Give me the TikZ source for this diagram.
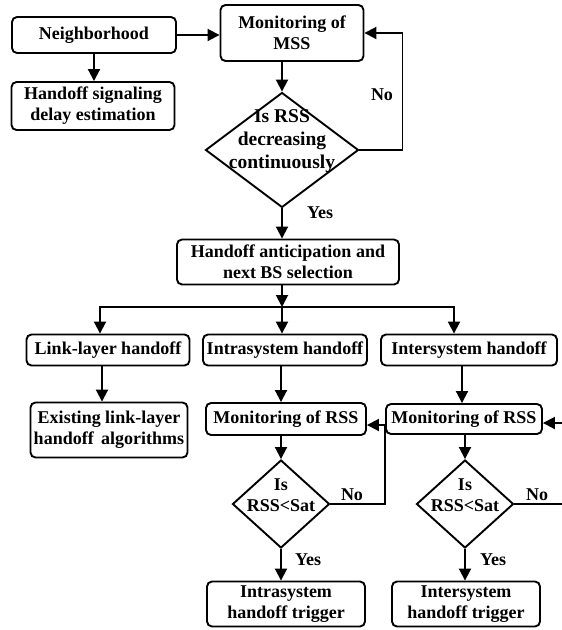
\documentclass[tikz,border=0pt]{standalone}
\usepackage{fontspec}
\setmainfont{Liberation Serif}
\usetikzlibrary{shapes.geometric,arrows.meta}
\begin{document}
\begin{tikzpicture}
      [x=1pt,y=-1pt,line width=1.9pt,
       every node/.style={font=\fontsize{18pt}{21pt}\selectfont\bfseries, inner sep=0pt, align=center},
       box/.style={draw, rounded corners=5pt},
       dia/.style={draw, diamond},
       arr/.style={-{Triangle[length=12pt,width=12pt]}}]
    \useasboundingbox (0,0) rectangle (562,630);

    \node[box, minimum width=164pt, minimum height=36pt] (nbr) at (94,35) {Neighborhood};
    \node[box, minimum width=163pt, minimum height=48pt] (hsd) at (93,106) {Handoff signaling\\delay estimation};
    \node[box, minimum width=143pt, minimum height=56pt] (mss) at (292,33) {Monitoring of\\MSS};
    \node[dia, minimum width=153pt, minimum height=115pt] (dec) at (282,150) {};
    \node[font=\fontsize{19.5pt}{23pt}\selectfont\bfseries] (decTxt) at (282,141) {Is RSS\\decreasing\\continuously};
    \node[box, minimum width=222pt, minimum height=45pt] (ant) at (288,262) {Handoff anticipation and\\next BS selection};
    \coordinate (split) at (282,307);

    \node[box, minimum width=163pt, minimum height=31pt] (link) at (108,350) {Link-layer handoff};
    \node[box, minimum width=164pt, minimum height=31pt] (intra) at (285,350) {Intrasystem handoff};
    \node[box, minimum width=176pt, minimum height=31pt] (inter) at (469,350) {Intersystem handoff};

    \node[box, minimum width=157pt, minimum height=55pt] (exist) at (109,430) {Existing link-layer\\handoff\, algorithms};
    \node[box, minimum width=160pt, minimum height=32pt] (monL) at (286,419) {Monitoring of RSS};
    \node[box, minimum width=156pt, minimum height=30pt] (monR) at (464,419) {Monitoring of RSS};

    \node[dia, minimum width=97pt, minimum height=88pt] (dL) at (281,504) {};
    \node (dLTxt) at (281,495) {Is\\RSS<Sat};
    \node[dia, minimum width=97pt, minimum height=88pt] (dR) at (465,504) {};
    \node (dRTxt) at (465,495) {Is\\RSS<Sat};

    \node[box, minimum width=158pt, minimum height=45pt] (trigL) at (286,604) {Intrasystem\\handoff trigger};
    \node[box, minimum width=148pt, minimum height=45pt] (trigR) at (466,604) {Intersystem\\handoff trigger};

    \node (no1) at (382,95) {No};
    \node (yes1) at (320,213) {Yes};
    \node (no2) at (352,495) {No};
    \node (yes2) at (308,560) {Yes};
    \node (no3) at (537,495) {No};
    \node (yes3) at (493,560) {Yes};

    \draw[arr] (nbr.south) -- (nbr.south |- hsd.north);
    \draw[arr] (nbr.east) -- (nbr.east -| mss.west);
    \draw[arr] (mss.south -| dec.north) -- (dec.north);
    \draw[arr] (dec.east) -| ([xshift=38pt]mss.east) -- (mss.east);
    \draw[arr] (dec.south) -- (dec.south |- ant.north);
    \draw[arr] (ant.south -| split) -- (split);
    \foreach \to/\dx in {link/-182, intra/0, inter/172}
      \draw[arr] (split) -| ([xshift=\dx pt]split |- \to.north);

    \draw[arr] ([xshift=-6pt]link.south) -- ([xshift=-6pt]link.south |- exist.north);
    \draw[arr] (dL |- intra.south) -- (dL |- monL.north);
    \draw[arr] ([xshift=-7pt]inter.south) -- ([xshift=-7pt]inter.south |- monR.north);
    \draw[arr] (dL |- monL.south) -- (dL.north);
    \draw[arr] (dR |- monR.south) -- (dR.north);
    \draw[arr] (dL.south) -- (dL.south |- trigL.north);
    \draw[arr] (dR.south) -- (dR.south |- trigR.north);
    \draw[arr] (dL.east) -| ([yshift=-6pt]monR.west) -- ([yshift=-6pt]monL.east);
    \draw[arr] (dR.east) -| ([xshift=30pt,yshift=-4pt]monR.east) -- ([yshift=-4pt]monR.east);
  \end{tikzpicture}
\end{document}
